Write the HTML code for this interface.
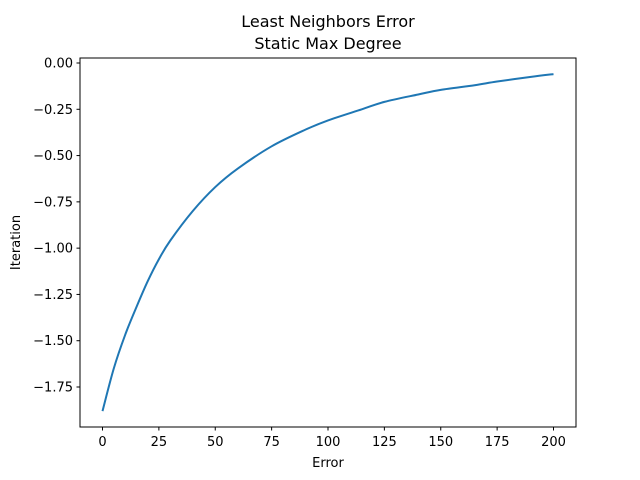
<!DOCTYPE html>
<html><head><meta charset="utf-8"><style>
body{margin:0;background:#fff;}
svg{display:block;font-family:"DejaVu Sans","Liberation Sans",sans-serif;}
</style></head><body>
<svg id="chart" width="640" height="480" viewBox="0 0 640 480">
<rect x="0" y="0" width="640" height="480" fill="#fff"/>
<text x="328" y="27" text-anchor="middle" font-size="16">Least Neighbors Error</text>
<text x="328" y="49" text-anchor="middle" font-size="16">Static Max Degree</text>
<g id="xticks"></g>
<g id="yticks"></g>
<path id="line" fill="none" stroke="#1f77b4" stroke-width="2"/>
<rect x="80" y="58" width="496" height="369" fill="none" stroke="#000" stroke-width="1"/>
<text x="328" y="467" text-anchor="middle" font-size="13">Error</text>
<text transform="translate(20,242.5) rotate(-90)" text-anchor="middle" font-size="13">Iteration</text>
</svg>
<script>
const xValues=[0,5,10,15,20,25,30,40,50,60,75,90,100,115,125,140,150,165,175,190,200];
const yValues=[-1.88,-1.65,-1.47,-1.32,-1.18,-1.06,-0.96,-0.80,-0.67,-0.57,-0.45,-0.36,-0.31,-0.25,-0.21,-0.17,-0.145,-0.12,-0.10,-0.075,-0.06];
const xTicks=[0,25,50,75,100,125,150,175,200];
const yTicks=[0,-0.25,-0.5,-0.75,-1,-1.25,-1.5,-1.75];
const ns="http://www.w3.org/2000/svg";
function sx(v){return 102.5+v*(553.5-102.5)/200;}
function sy(v){return 63-v*(387-63)/1.75;}
const xg=document.getElementById('xticks'),yg=document.getElementById('yticks');
xTicks.forEach(t=>{
 const l=document.createElementNS(ns,'line');
 
 
 l.setAttribute('x1',sx(t));l.setAttribute('x2',sx(t));l.setAttribute('y1',427);l.setAttribute('y2',430.5);l.setAttribute('stroke','#000');
 xg.appendChild(l);
 const tx=document.createElementNS(ns,'text');
 
 
 tx.setAttribute('x',sx(t));tx.setAttribute('y',446);tx.setAttribute('text-anchor','middle');tx.setAttribute('font-size','13');
 tx.textContent=t;xg.appendChild(tx);
});
yTicks.forEach(t=>{
 const l=document.createElementNS(ns,'line');
 
 
 l.setAttribute('x1',76.5);l.setAttribute('x2',80);l.setAttribute('y1',sy(t));l.setAttribute('y2',sy(t));l.setAttribute('stroke','#000');
 yg.appendChild(l);
 const tx=document.createElementNS(ns,'text');
 
 
 tx.setAttribute('x',73);tx.setAttribute('y',sy(t)+4.5);tx.setAttribute('text-anchor','end');tx.setAttribute('font-size','13');
 tx.textContent=(t<0?'\u2212':'')+Math.abs(t).toFixed(2);yg.appendChild(tx);
});
// Catmull-Rom smoothing through data points
const P=xValues.map((x,i)=>[sx(x),sy(yValues[i])]);
let d='M'+P[0][0].toFixed(2)+','+P[0][1].toFixed(2);
for(let i=0;i<P.length-1;i++){
 const p0=P[i-1]||P[i],p1=P[i],p2=P[i+1],p3=P[i+2]||P[i+1];
 const c1=[p1[0]+(p2[0]-p0[0])/6,p1[1]+(p2[1]-p0[1])/6];
 const c2=[p2[0]-(p3[0]-p1[0])/6,p2[1]-(p3[1]-p1[1])/6];
 d+=' C'+c1.map(v=>v.toFixed(2)).join(',')+' '+c2.map(v=>v.toFixed(2)).join(',')+' '+p2.map(v=>v.toFixed(2)).join(',');
}
document.getElementById('line').setAttribute('d',d);
</script>
</body></html>
